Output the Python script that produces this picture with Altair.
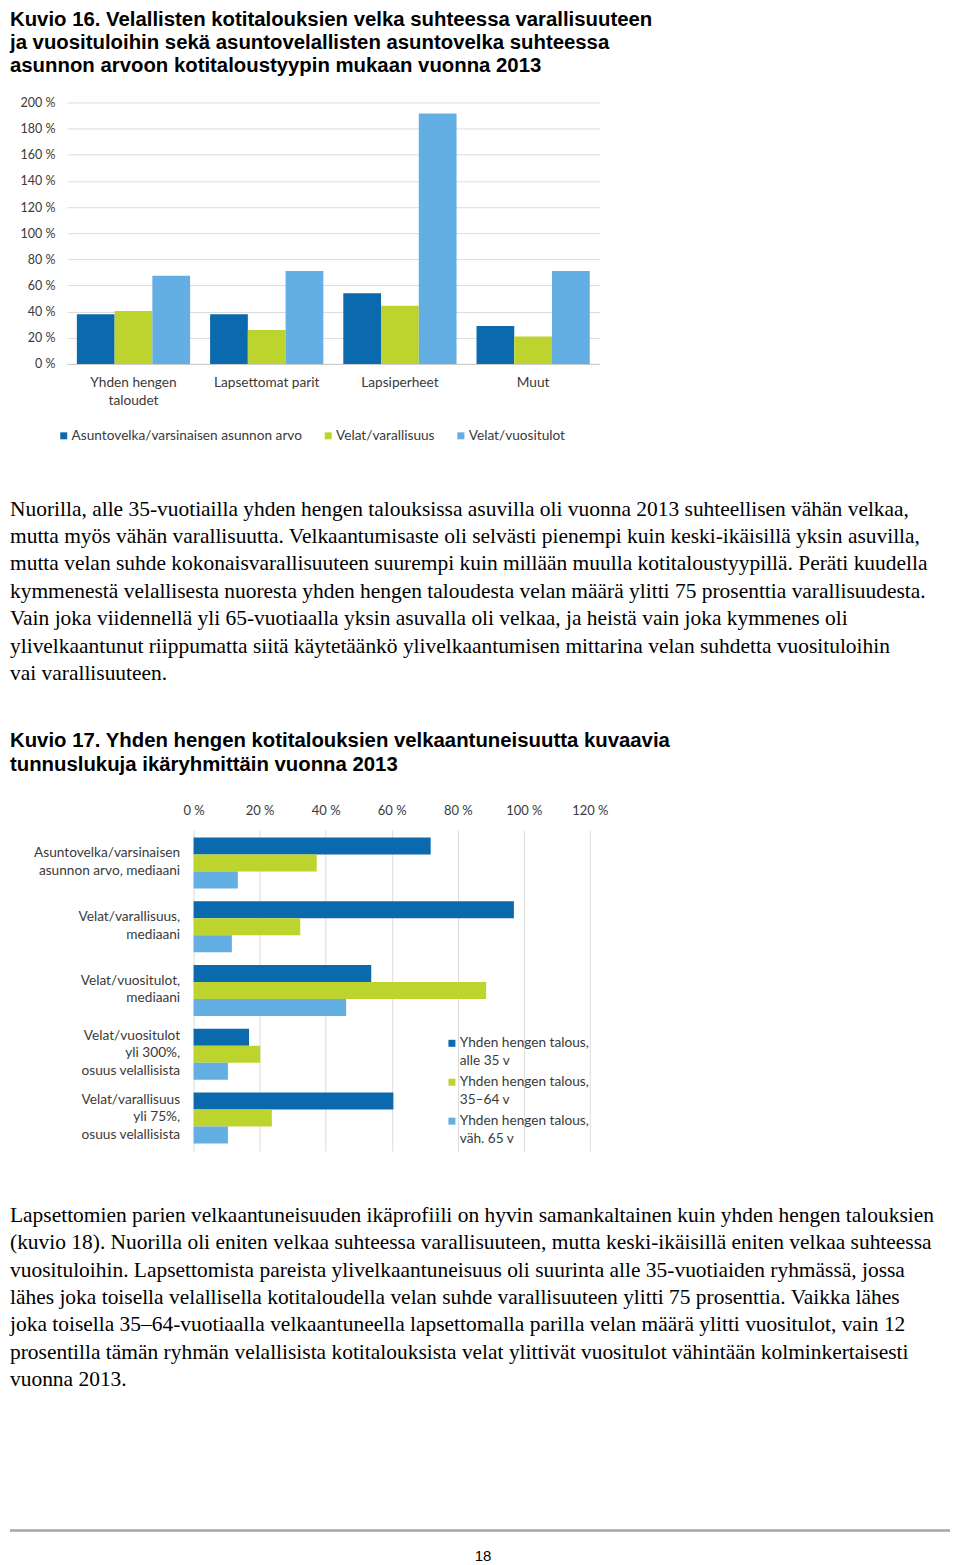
import altair as alt
import pandas as pd

# ---------------- data ----------------
C1_CATS = ["Yhden hengen|taloudet", "Lapsettomat parit", "Lapsiperheet", "Muut"]
C1_SERIES = ["Asuntovelka/varsinaisen asunnon arvo", "Velat/varallisuus", "Velat/vuositulot"]
C1_ASUNTO = [38, 38, 54, 29]
C1_VARALL = [40.5, 26, 44.5, 21]
C1_TULOT = [67.5, 71, 191.5, 71]

C2_CATS = [
    "Asuntovelka/varsinaisen|asunnon arvo, mediaani",
    "Velat/varallisuus,|mediaani",
    "Velat/vuositulot,|mediaani",
    "Velat/vuositulot|yli 300%,|osuus velallisista",
    "Velat/varallisuus|yli 75%,|osuus velallisista",
]
C2_SERIES = [
    "Yhden hengen talous,|alle 35 v",
    "Yhden hengen talous,|35\u201364 v",
    "Yhden hengen talous,|väh. 65 v",
]
C2_ALLE35 = [71.8, 97.0, 53.8, 16.8, 60.5]
C2_KESKI = [37.3, 32.3, 88.6, 20.2, 23.7]
C2_YLI65 = [13.4, 11.6, 46.2, 10.4, 10.4]

C1_TICKS = [0, 20, 40, 60, 80, 100, 120, 140, 160, 180, 200]
C2_TICKS = [0, 20, 40, 60, 80, 100, 120]

TITLE1 = ("Kuvio 16. Velallisten kotitalouksien velka suhteessa varallisuuteen\n"
          "ja vuosituloihin sekä asuntovelallisten asuntovelka suhteessa\n"
          "asunnon arvoon kotitaloustyypin mukaan vuonna 2013")
PARA1 = ("Nuorilla, alle 35-vuotiailla yhden hengen talouksissa asuvilla oli vuonna 2013 suhteellisen vähän velkaa,\n"
         "mutta myös vähän varallisuutta. Velkaantumisaste oli selvästi pienempi kuin keski-ikäisillä yksin asuvilla,\n"
         "mutta velan suhde kokonaisvarallisuuteen suurempi kuin millään muulla kotitaloustyypillä. Peräti kuudella\n"
         "kymmenestä velallisesta nuoresta yhden hengen taloudesta velan määrä ylitti 75 prosenttia varallisuudesta.\n"
         "Vain joka viidennellä yli 65-vuotiaalla yksin asuvalla oli velkaa, ja heistä vain joka kymmenes oli\n"
         "ylivelkaantunut riippumatta siitä käytetäänkö ylivelkaantumisen mittarina velan suhdetta vuosituloihin\n"
         "vai varallisuuteen.")
TITLE2 = ("Kuvio 17. Yhden hengen kotitalouksien velkaantuneisuutta kuvaavia\n"
          "tunnuslukuja ikäryhmittäin vuonna 2013")
PARA2 = ("Lapsettomien parien velkaantuneisuuden ikäprofiili on hyvin samankaltainen kuin yhden hengen talouksien\n"
         "(kuvio 18). Nuorilla oli eniten velkaa suhteessa varallisuuteen, mutta keski-ikäisillä eniten velkaa suhteessa\n"
         "vuosituloihin. Lapsettomista pareista ylivelkaantuneisuus oli suurinta alle 35-vuotiaiden ryhmässä, jossa\n"
         "lähes joka toisella velallisella kotitaloudella velan suhde varallisuuteen ylitti 75 prosenttia. Vaikka lähes\n"
         "joka toisella 35\u201364-vuotiaalla velkaantuneella lapsettomalla parilla velan määrä ylitti vuositulot, vain 12\n"
         "prosentilla tämän ryhmän velallisista kotitalouksista velat ylittivät vuositulot vähintään kolminkertaisesti\n"
         "vuonna 2013.")
PAGE_NO = "18"

COLORS = ["#0b6aad", "#bed42e", "#63aee2"]
AXIS_FONT = "Lato"
AXIS_COLOR = "#3a3a3a"
TITLE_FONT = "Liberation Sans"
BODY_FONT = "Liberation Serif"

# ---------------- tables ----------------
rows1 = []
for s, vals in zip(C1_SERIES, [C1_ASUNTO, C1_VARALL, C1_TULOT]):
    for c, v in zip(C1_CATS, vals):
        rows1.append({"cat": c, "series": s, "value": v})
df1 = pd.DataFrame(rows1)

rows2 = []
for s, vals in zip(C2_SERIES, [C2_ALLE35, C2_KESKI, C2_YLI65]):
    for c, v in zip(C2_CATS, vals):
        rows2.append({"cat": c, "series": s, "value": v})
df2 = pd.DataFrame(rows2)


def text_layer(txt, x, y, font, size, line_h, bold=False, baseline="alphabetic", align="left"):
    return alt.Chart(pd.DataFrame({"t": [txt]})).mark_text(
        align=align, baseline=baseline, lineBreak="\n", font=font, fontSize=size,
        lineHeight=line_h, fontWeight="bold" if bold else "normal", color="#000000"
    ).encode(x=alt.value(x), y=alt.value(y), text="t:N")


# ---------------- chart 1 ----------------
bars1 = alt.Chart(df1).mark_bar().encode(
    x=alt.X("cat:N", sort=C1_CATS,
            scale=alt.Scale(paddingInner=0.15, paddingOuter=0.075),
            axis=alt.Axis(title=None, labelAngle=0, labelExpr="split(datum.label, '|')",
                          domain=True, domainColor="#c8c8c8", ticks=False, labelPadding=12,
                          labelFont=AXIS_FONT, labelFontSize=13.7, labelColor=AXIS_COLOR,
                          labelLineHeight=18)),
    xOffset=alt.XOffset("series:N", sort=C1_SERIES),
    y=alt.Y("value:Q", scale=alt.Scale(domain=[0, 200]),
            axis=alt.Axis(title=None, values=C1_TICKS, labelExpr="datum.value + ' %'",
                          grid=True, gridColor="#dcdcdc", domain=False, ticks=False,
                          labelPadding=12, labelFont=AXIS_FONT, labelFontSize=12.5,
                          labelColor=AXIS_COLOR)),
    color=alt.Color("series:N", sort=C1_SERIES,
                    scale=alt.Scale(domain=C1_SERIES, range=COLORS),
                    legend=alt.Legend(orient="none", legendX=-10, legendY=327,
                                      direction="horizontal", title=None,
                                      symbolType="square", symbolSize=49,
                                      symbolStrokeWidth=0, labelOffset=1,
                                      columnPadding=19, labelFont=AXIS_FONT,
                                      labelFontSize=13.7, labelColor=AXIS_COLOR,
                                      labelLimit=400)),
)

chart1 = alt.layer(
    bars1,
    text_layer(TITLE1, -57, -93, TITLE_FONT, 20.4, 23, bold=True, baseline="top"),
    text_layer(PARA1, -57, 414, BODY_FONT, 21.5, 27.5),
).properties(width=534, height=262)

# ---------------- chart 2 ----------------
# view spans the same x range as chart 1; 0 % sits 127 px right of the view edge
X2_DOMAIN = [-38.37, 123.0]

bars2 = alt.Chart(df2).mark_bar().encode(
    y=alt.Y("cat:N", sort=C2_CATS,
            scale=alt.Scale(paddingInner=0.2, paddingOuter=0.12),
            axis=alt.Axis(title=None, labelExpr="split(datum.label, '|')", ticks=False,
                          domain=False, labelPadding=14, labelFont=AXIS_FONT,
                          labelFontSize=13.7, labelColor=AXIS_COLOR, labelLineHeight=17.5,
                          labelLimit=300, offset=-127,
                          labelOffset=alt.ExprRef(expr="-(length(split(datum.label, '|')) - 1) * 8.75 - 1"))),
    yOffset=alt.YOffset("series:N", sort=C2_SERIES),
    x=alt.X("value:Q", scale=alt.Scale(domain=X2_DOMAIN, nice=False, zero=False),
            axis=alt.Axis(title=None, orient="top", values=C2_TICKS,
                          labelExpr="datum.value + ' %'", grid=True, gridColor="#dcdcdc",
                          domain=False, ticks=False, labelPadding=12, labelFont=AXIS_FONT,
                          labelFontSize=13, labelColor=AXIS_COLOR)),
    color=alt.Color("series:N", sort=C2_SERIES,
                    scale=alt.Scale(domain=C2_SERIES, range=COLORS),
                    legend=alt.Legend(orient="none", legendX=379, legendY=207,
                                      direction="vertical", title=None,
                                      labelExpr="split(datum.label, '|')",
                                      symbolType="square", symbolSize=49,
                                      symbolStrokeWidth=0, labelOffset=1,
                                      labelBaseline="middle", rowPadding=6,
                                      labelFont=AXIS_FONT, labelFontSize=13.7,
                                      labelColor=AXIS_COLOR, labelLimit=400)),
)

rule = alt.Chart(pd.DataFrame({"r": [0]})).mark_rule(color="#a6a6a6", strokeWidth=2.5).encode(
    x=alt.value(-57), x2=alt.value(885), y=alt.value(702)
)

chart2 = alt.layer(
    bars2,
    text_layer(TITLE2, -57, -83, TITLE_FONT, 20.4, 24.3, bold=True),
    text_layer(PARA2, -57, 393, BODY_FONT, 21.5, 27.4),
    rule,
    text_layer(PAGE_NO, 417, 728, TITLE_FONT, 15, 15, baseline="middle", align="center"),
).properties(width=534, height=322)

chart = alt.vconcat(chart1, chart2, spacing=467, bounds="flush").properties(
    padding=0
).resolve_scale(color="independent").resolve_legend(color="independent").configure(
    view=alt.ViewConfig(strokeWidth=0),
    style={"guide-label": {"lineHeight": 18}},
)

chart.save("out.html", embed_options={"renderer": "svg", "actions": False})
